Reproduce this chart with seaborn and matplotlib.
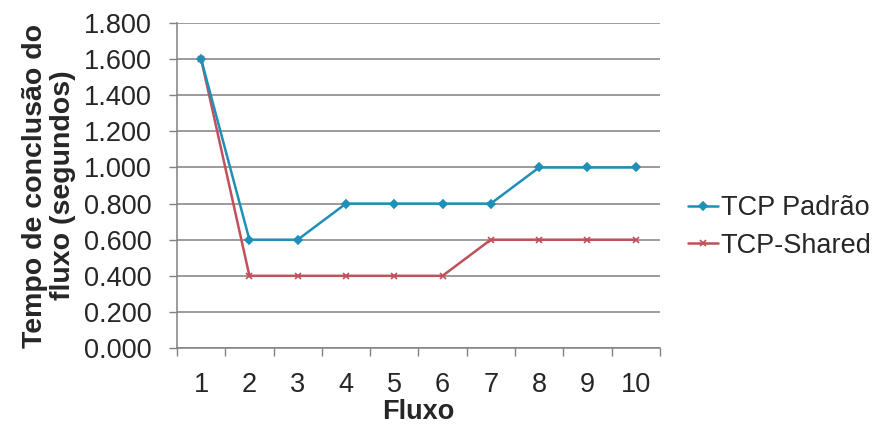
import numpy as np
import pandas as pd
import matplotlib
matplotlib.use("Agg")
import matplotlib.pyplot as plt
import seaborn as sns
from matplotlib.ticker import FixedLocator, FuncFormatter

fluxo = [1, 2, 3, 4, 5, 6, 7, 8, 9, 10]
tcp_padrao = [1.6, 0.6, 0.6, 0.8, 0.8, 0.8, 0.8, 1.0, 1.0, 1.0]
tcp_shared = [1.6, 0.4, 0.4, 0.4, 0.4, 0.4, 0.6, 0.6, 0.6, 0.6]
series = ["TCP Padrão", "TCP-Shared"]
yticks = [0.0, 0.2, 0.4, 0.6, 0.8, 1.0, 1.2, 1.4, 1.6, 1.8]

sns.set_style("white")
plt.rcParams["font.family"] = ["Liberation Sans", "DejaVu Sans"]

fig = plt.figure(figsize=(8.81, 4.34), dpi=100)
ax = fig.add_axes([0.2009, 0.198, 0.548, 0.749])

cores = ["#1f8fb8", "#c0505a"]
marcadores = ["D", "x"]
# desenha a serie vermelha primeiro, azul por cima
for vals, cor, m in list(zip([tcp_padrao, tcp_shared], cores, marcadores))[::-1]:
    sns.lineplot(x=fluxo, y=vals, color=cor, marker=m, markersize=4,
                 markeredgewidth=1.2, markeredgecolor=cor, linewidth=1.8, ax=ax)

ax.set_xlim(0.5, 10.5)
ax.set_ylim(0, 1.8)
ax.set_yticks(yticks)
ax.yaxis.set_major_formatter(FuncFormatter(lambda v, p: f"{v:.3f}"))
ax.set_xticks(fluxo)
ax.xaxis.set_minor_locator(FixedLocator(np.arange(0.5, 11, 1)))
ax.tick_params(axis="x", which="major", length=0, labelsize=19.5, pad=17)
ax.tick_params(axis="x", which="minor", length=6, width=1, color="#808080",
               direction="out", bottom=True)
ax.tick_params(axis="y", which="major", length=6, width=1, color="#808080",
               direction="out", left=True, labelsize=19.5, pad=12)

ax.grid(axis="y", color="#808080", linewidth=1.1)
ax.set_axisbelow(True)
for s in ["top", "right"]:
    ax.spines[s].set_visible(False)
for s in ["left", "bottom"]:
    ax.spines[s].set_color("#808080")
    ax.spines[s].set_linewidth(1.1)

ax.set_xlabel("Fluxo", fontsize=19.5, fontweight="bold", labelpad=1)
ax.set_ylabel("Tempo de conclusão do\nfluxo (segundos)", fontsize=20.5,
              fontweight="bold", labelpad=6, linespacing=1.1)

handles = [plt.Line2D([], [], color=c, marker=m, markersize=4,
                      markeredgewidth=1.2, linewidth=1.8)
           for c, m in zip(cores, marcadores)]
fig.legend(handles, series, loc="center left", bbox_to_anchor=(0.781, 0.477),
           frameon=False, fontsize=19.5, handlelength=1.1, handletextpad=0.1,
           labelspacing=0.42, borderaxespad=0, borderpad=0)

fig.savefig("out.png", dpi=100)
